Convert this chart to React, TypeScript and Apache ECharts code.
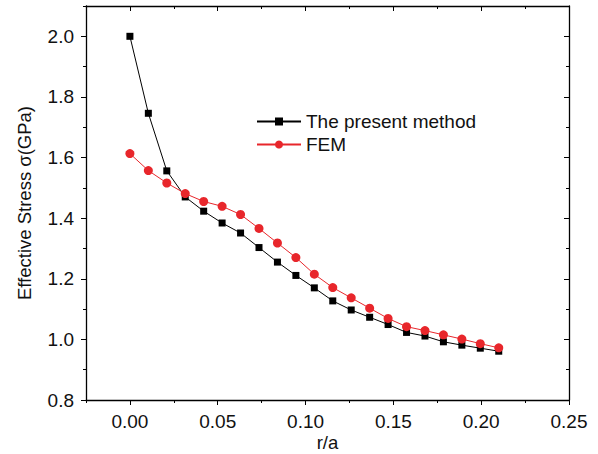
import React, { useEffect, useRef } from "react";
import * as echarts from "echarts";

const rOverA = [0, 0.0105, 0.021, 0.0315, 0.042, 0.0525, 0.063, 0.0735, 0.084, 0.0945, 0.105, 0.1155, 0.126, 0.1365, 0.147, 0.1575, 0.168, 0.1785, 0.189, 0.1995, 0.21];
const presentMethod = [2.0, 1.746, 1.556, 1.47, 1.423, 1.384, 1.351, 1.303, 1.255, 1.211, 1.17, 1.127, 1.097, 1.073, 1.049, 1.023, 1.011, 0.992, 0.981, 0.971, 0.961];
const fem = [1.613, 1.557, 1.516, 1.481, 1.455, 1.439, 1.412, 1.366, 1.318, 1.27, 1.215, 1.171, 1.137, 1.103, 1.069, 1.042, 1.029, 1.015, 1.001, 0.986, 0.972];
const xMajorTicks = [0, 0.05, 0.1, 0.15, 0.2, 0.25];
const yMajorTicks = [0.8, 1.0, 1.2, 1.4, 1.6, 1.8, 2.0];
const seriesNames = ["The present method", "FEM"];

const FONT = "'Liberation Sans', Arial, sans-serif";
const RED = "#e8262b";
const FS = 19;

export default function App() {
  const ref = useRef<HTMLDivElement>(null);
  useEffect(() => {
    if (!ref.current) return;
    const chart = echarts.init(ref.current, null, { renderer: "svg" });
    const axisLine = { show: true, onZero: false, lineStyle: { color: "#000", width: 1.3 } };
    const noLine = { show: false, onZero: false };
    const xBase = { type: "value", min: -0.025, max: 0.25, interval: 0.025, splitLine: { show: false } };
    const yBase = { type: "value", min: 0.8, max: 2.1, interval: 0.1, splitLine: { show: false } };
    chart.setOption({
      animation: false,
      grid: { left: 86, top: 6, right: 29, bottom: 54, containLabel: false, outerBoundsMode: "none" },
      legend: {
        orient: "vertical",
        left: 251,
        top: 107,
        itemWidth: 44,
        itemHeight: 10,
        itemGap: 4,
        textStyle: { fontFamily: FONT, fontSize: FS, color: "#111", lineHeight: 19 },
        data: seriesNames,
      },
      xAxis: [
        {
          ...xBase,
          position: "bottom",
          axisLine,
          axisTick: { show: true, inside: false, length: 3, lineStyle: { color: "#000" } },
          axisLabel: {
            show: true,
            margin: 12,
            fontFamily: FONT,
            fontSize: FS,
            color: "#111",
            formatter: (v: number) => {
              const k = Math.round(v * 40);
              return k >= 0 && k % 2 === 0 ? v.toFixed(2) : "";
            },
          },
          name: "r/a",
          nameLocation: "middle",
          nameGap: 33,
          nameMoveOverlap: false,
          nameTextStyle: { fontFamily: FONT, fontSize: 18.5, color: "#111", lineHeight: 19 },
        },
        {
          ...xBase,
          position: "bottom",
          axisLine: noLine,
          axisTick: { show: true, inside: false, length: 5, customValues: xMajorTicks, lineStyle: { color: "#000" } },
          axisLabel: { show: false },
        },
        {
          ...xBase,
          position: "top",
          axisLine,
          axisTick: { show: true, inside: true, length: 3, lineStyle: { color: "#000" } },
          axisLabel: { show: false },
        },
        {
          ...xBase,
          position: "top",
          axisLine: noLine,
          axisTick: { show: true, inside: true, length: 5, customValues: xMajorTicks, lineStyle: { color: "#000" } },
          axisLabel: { show: false },
        },
      ],
      yAxis: [
        {
          ...yBase,
          position: "left",
          axisLine,
          axisTick: { show: true, inside: false, length: 3, lineStyle: { color: "#000" } },
          axisLabel: {
            show: true,
            margin: 12,
            fontFamily: FONT,
            fontSize: FS,
            color: "#111",
            formatter: (v: number) => {
              const k = Math.round(v * 10);
              return k % 2 === 0 ? v.toFixed(1) : "";
            },
          },
          name: "Effective Stress σ(GPa)",
          nameLocation: "middle",
          nameGap: 52,
          nameMoveOverlap: false,
          nameTextStyle: { fontFamily: FONT, fontSize: 18.5, color: "#111" },
        },
        {
          ...yBase,
          position: "left",
          axisLine: noLine,
          axisTick: { show: true, inside: false, length: 5, customValues: yMajorTicks, lineStyle: { color: "#000" } },
          axisLabel: { show: false },
        },
        {
          ...yBase,
          position: "right",
          axisLine,
          axisTick: { show: true, inside: true, length: 3, lineStyle: { color: "#000" } },
          axisLabel: { show: false },
        },
        {
          ...yBase,
          position: "right",
          axisLine: noLine,
          axisTick: { show: true, inside: true, length: 5, customValues: yMajorTicks, lineStyle: { color: "#000" } },
          axisLabel: { show: false },
        },
      ],
      series: [
        {
          name: seriesNames[0],
          type: "line",
          xAxisIndex: 0,
          yAxisIndex: 0,
          data: rOverA.map((x, i) => [x, presentMethod[i]]),
          symbol: "rect",
          symbolSize: 7,
          itemStyle: { color: "#000" },
          lineStyle: { color: "#000", width: 1 },
          z: 3,
        },
        {
          name: seriesNames[1],
          type: "line",
          xAxisIndex: 0,
          yAxisIndex: 0,
          data: rOverA.map((x, i) => [x, fem[i]]),
          symbol: "circle",
          symbolSize: 9,
          itemStyle: { color: RED },
          lineStyle: { color: RED, width: 1 },
          z: 4,
        },
      ],
    });
    return () => chart.dispose();
  }, []);
  return <div ref={ref} style={{ position: "fixed", left: 0, top: 0, width: 598, height: 454, background: "#fff" }} />;
}
